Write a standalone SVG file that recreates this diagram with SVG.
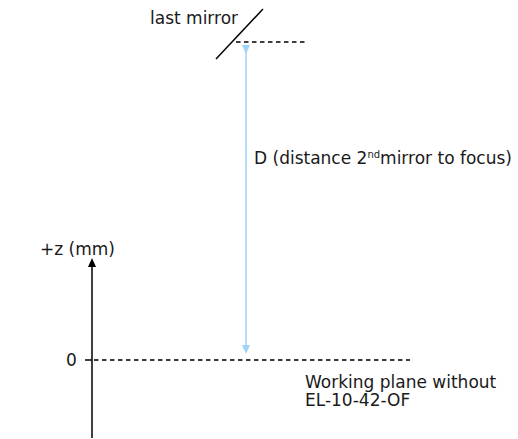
<svg xmlns="http://www.w3.org/2000/svg" width="518" height="439" viewBox="0 0 518 439">
<style>
text{font-family:"DejaVu Sans",Verdana,sans-serif;font-size:17px;fill:#1a1a1a}
.dash{stroke:#000;stroke-width:1.3;stroke-dasharray:4.5 3.5;fill:none}
.ln{stroke:#000;stroke-width:1.5;fill:none}
</style>
<defs>
<marker id="ab" markerWidth="10" markerHeight="10" refX="5" refY="5" orient="auto" markerUnits="userSpaceOnUse"><path d="M0,1 L9,5 L0,9 Z" fill="#9fd3f7"/></marker>
<marker id="ak" markerWidth="10" markerHeight="10" refX="5" refY="5" orient="auto" markerUnits="userSpaceOnUse"><path d="M0,1 L9,5 L0,9 Z" fill="#000"/></marker>
</defs>
<g id="mirror">
<line class="ln" x1="216" y1="59" x2="263" y2="9"/>
<text x="150" y="24">last mirror</text>
</g>
<g id="axis">
<line class="ln" x1="92" y1="438" x2="92" y2="262" marker-end="url(#ak)"/>
<text x="40" y="255">+z (mm)</text>
<line class="ln" x1="85" y1="360" x2="92" y2="360"/>
<text x="66" y="366">0</text>
</g>
<g id="plane">
<text x="305" y="388">Working plane without</text>
<text x="305" y="406">EL-10-42-OF</text>
</g>
<g id="connectors">
<line class="dash" x1="236" y1="42" x2="305" y2="42"/>
<line class="dash" x1="94" y1="360" x2="410" y2="360"/>
<line x1="246" y1="50" x2="246" y2="350" stroke="#9fd3f7" stroke-width="1.5" marker-start="url(#ab)" marker-end="url(#ab)"/>
</g>
<g id="label-d">
<text x="254" y="164">D (distance 2<tspan font-size="10" dy="-6">nd</tspan><tspan dy="6">mirror to focus)</tspan></text>
</g>
</svg>
